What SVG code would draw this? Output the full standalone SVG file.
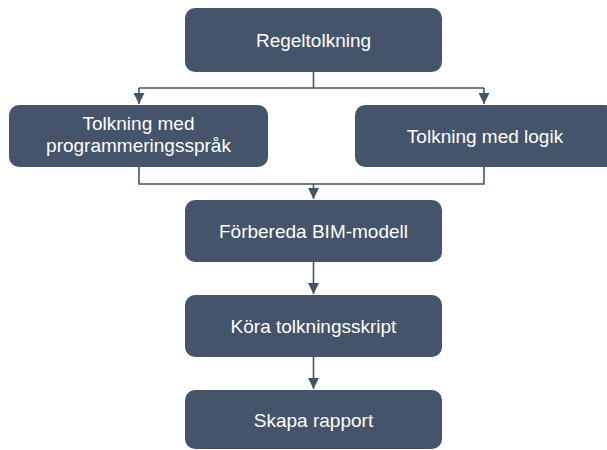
<svg xmlns="http://www.w3.org/2000/svg" width="607" height="450" viewBox="0 0 607 450">
<style>
.box{fill:#44546A;}
.lbl{fill:#FFFFFF;font-family:"Liberation Sans",Arial,sans-serif;font-size:19px;text-anchor:middle;}
.con{fill:none;stroke:#44546A;stroke-width:1.6;}
</style>
<defs>
<marker id="arr" markerUnits="userSpaceOnUse" markerWidth="11" markerHeight="11" viewBox="0 0 11 11" refX="11" refY="5.5" orient="auto">
<path d="M0,0 L11,5.5 L0,11 z" fill="#44546A"/>
</marker>
</defs>
<rect width="607" height="450" fill="#FFFFFF"/>
<g id="connectors">
<path class="con" d="M313.5 72 V88 M139 88 H484"/>
<path class="con" d="M139 88 V104" marker-end="url(#arr)"/>
<path class="con" d="M484 88 V104" marker-end="url(#arr)"/>
<path class="con" d="M139 167 V184 H484 V167"/>
<path class="con" d="M313.5 184 V199" marker-end="url(#arr)"/>
<path class="con" d="M313.5 262 V294" marker-end="url(#arr)"/>
<path class="con" d="M313.5 357 V389" marker-end="url(#arr)"/>
</g>
<g id="regeltolkning">
<rect class="box" x="185" y="8" width="257" height="64" rx="10"/>
<text class="lbl" x="313.5" y="47">Regeltolkning</text>
</g>
<g id="tolkning-programmering">
<rect class="box" x="9" y="105" width="259" height="62" rx="10"/>
<text class="lbl" x="138.5" y="130">Tolkning med</text>
<text class="lbl" x="138.5" y="152">programmeringsspråk</text>
</g>
<g id="tolkning-logik">
<rect class="box" x="355" y="105" width="260" height="62" rx="10"/>
<text class="lbl" x="485" y="143">Tolkning med logik</text>
</g>
<g id="forbereda">
<rect class="box" x="185" y="200" width="257" height="62" rx="10"/>
<text class="lbl" x="313.5" y="238">Förbereda BIM-modell</text>
</g>
<g id="kora">
<rect class="box" x="185" y="295" width="257" height="62" rx="10"/>
<text class="lbl" x="313.5" y="333">Köra tolkningsskript</text>
</g>
<g id="skapa">
<rect class="box" x="185" y="390" width="257" height="59" rx="10"/>
<text class="lbl" x="313.5" y="427">Skapa rapport</text>
</g>
</svg>
